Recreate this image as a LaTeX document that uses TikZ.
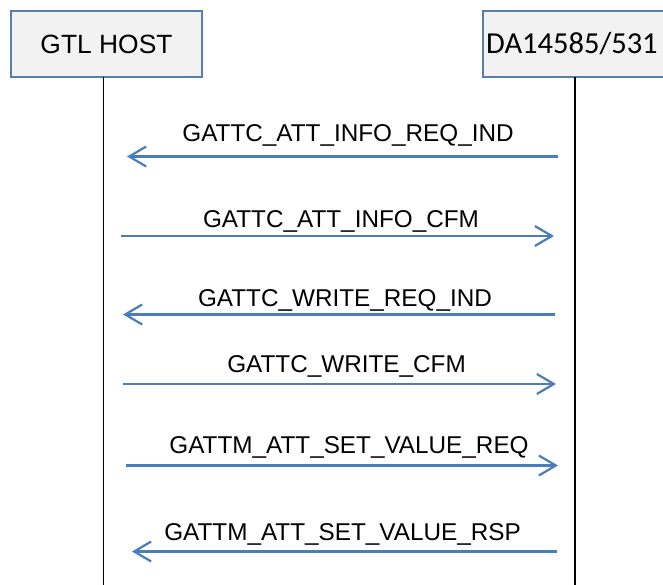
\documentclass[tikz,border=0pt]{standalone}
\usepackage{fontspec}
\setmainfont{Liberation Sans}
\newfontfamily\devfont{Carlito}
\usetikzlibrary{arrows.meta}

\definecolor{msgblue}{HTML}{4A7EBB}
\definecolor{boxline}{HTML}{5A7DB0}
\definecolor{boxfill}{HTML}{F2F2F2}

\tikzset{
  entity/.style={draw=boxline, fill=boxfill, line width=2pt, inner sep=0pt, minimum height=66pt},
  lifeline/.style={line width=1.6pt, black},
  msg/.style={msgblue, line width=2.2pt, -{Straight Barb[length=17pt, width=20pt, line width=2.2pt]}},
  msglabel/.style={font=\fontsize{24.3}{28}\selectfont, inner sep=0pt, anchor=base}
}

\begin{document}
\begin{tikzpicture}[x=1pt, y=-1pt]
                      \clip (0,0) rectangle (663,585);
                      \useasboundingbox (0,0) rectangle (663,585);

                      % entities
                      \node[entity, minimum width=191pt, font=\fontsize{26.4}{30}\selectfont] (host) at (106.5,44) {GTL HOST};
                      \node[entity, minimum width=260pt, anchor=west] (dev) at (482,44) {};
                      \node[font=\devfont\fontsize{30.5}{34}\selectfont, inner sep=0pt, anchor=west] (devname) at (486,44) {DA14585/531};

                      % lifelines
                      \coordinate (hosttop) at (103.5,77);
                      \coordinate (hostbot) at (103.5,585);
                      \coordinate (devtop) at (575,77);
                      \coordinate (devbot) at (575,585);
                      \draw[lifeline] (hosttop) -- (hostbot);
                      \draw[lifeline] (devtop) -- (devbot);

                      % messages
                      \coordinate (m1a) at (558,156.5); \coordinate (m1b) at (127,156.5);
                      \draw[msg] (m1a) -- (m1b);
                      \node[msglabel] (l1) at (348,141.5) {GATTC\_ATT\_INFO\_REQ\_IND};

                      \coordinate (m2a) at (121,236); \coordinate (m2b) at (554,236);
                      \draw[msg] (m2a) -- (m2b);
                      \node[msglabel] (l2) at (341,228) {GATTC\_ATT\_INFO\_CFM};

                      \coordinate (m3a) at (555,314.5); \coordinate (m3b) at (123,314.5);
                      \draw[msg] (m3a) -- (m3b);
                      \node[msglabel] (l3) at (345,306) {GATTC\_WRITE\_REQ\_IND};

                      \coordinate (m4a) at (123,384); \coordinate (m4b) at (556,384);
                      \draw[msg] (m4a) -- (m4b);
                      \node[msglabel] (l4) at (346.5,372) {GATTC\_WRITE\_CFM};

                      \coordinate (m5a) at (126,465.5); \coordinate (m5b) at (558,465.5);
                      \draw[msg] (m5a) -- (m5b);
                      \node[msglabel] (l5) at (349,453) {GATTM\_ATT\_SET\_VALUE\_REQ};

                      \coordinate (m6a) at (557,551.5); \coordinate (m6b) at (132,551.5);
                      \draw[msg] (m6a) -- (m6b);
                      \node[msglabel] (l6) at (342.5,540) {GATTM\_ATT\_SET\_VALUE\_RSP};
                  \end{tikzpicture}
\end{document}
